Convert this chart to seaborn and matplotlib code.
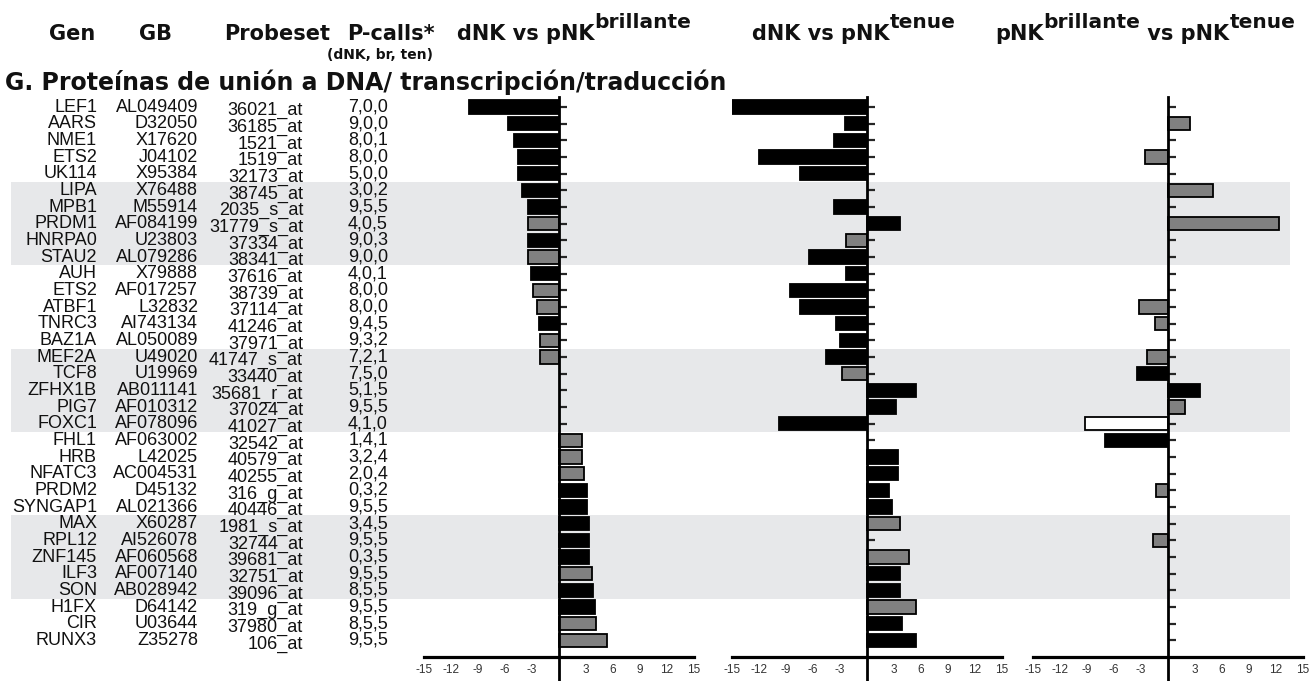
import numpy as np
import pandas as pd
import matplotlib
matplotlib.use('Agg')
import matplotlib.pyplot as plt
import seaborn as sns

# Table columns
genes = ['LEF1', 'AARS', 'NME1', 'ETS2', 'UK114', 'LIPA', 'MPB1', 'PRDM1', 'HNRPA0', 'STAU2',
         'AUH', 'ETS2', 'ATBF1', 'TNRC3', 'BAZ1A', 'MEF2A', 'TCF8', 'ZFHX1B', 'PIG7', 'FOXC1',
         'FHL1', 'HRB', 'NFATC3', 'PRDM2', 'SYNGAP1', 'MAX', 'RPL12', 'ZNF145', 'ILF3', 'SON',
         'H1FX', 'CIR', 'RUNX3']
genbank = ['AL049409', 'D32050', 'X17620', 'J04102', 'X95384', 'X76488', 'M55914', 'AF084199', 'U23803', 'AL079286',
           'X79888', 'AF017257', 'L32832', 'AI743134', 'AL050089', 'U49020', 'U19969', 'AB011141', 'AF010312', 'AF078096',
           'AF063002', 'L42025', 'AC004531', 'D45132', 'AL021366', 'X60287', 'AI526078', 'AF060568', 'AF007140', 'AB028942',
           'D64142', 'U03644', 'Z35278']
probesets = ['36021_at', '36185_at', '1521_at', '1519_at', '32173_at', '38745_at', '2035_s_at', '31779_s_at', '37334_at', '38341_at',
             '37616_at', '38739_at', '37114_at', '41246_at', '37971_at', '41747_s_at', '33440_at', '35681_r_at', '37024_at', '41027_at',
             '32542_at', '40579_at', '40255_at', '316_g_at', '40446_at', '1981_s_at', '32744_at', '39681_at', '32751_at', '39096_at',
             '319_g_at', '37980_at', '106_at']
pcalls = ['7,0,0', '9,0,0', '8,0,1', '8,0,0', '5,0,0', '3,0,2', '9,5,5', '4,0,5', '9,0,3', '9,0,0',
          '4,0,1', '8,0,0', '8,0,0', '9,4,5', '9,3,2', '7,2,1', '7,5,0', '5,1,5', '9,5,5', '4,1,0',
          '1,4,1', '3,2,4', '2,0,4', '0,3,2', '9,5,5', '3,4,5', '9,5,5', '0,3,5', '9,5,5', '8,5,5',
          '9,5,5', '8,5,5', '9,5,5']

nan = np.nan
# fold change, dNK vs pNK brillante
fc_br = [-10.0, -5.7, -5.0, -4.6, -4.6, -4.1, -3.4, -3.4, -3.4, -3.4,
         -3.1, -2.9, -2.4, -2.2, -2.1, -2.1, nan, nan, nan, nan,
         2.5, 2.5, 2.8, 3.1, 3.1, 3.3, 3.3, 3.3, 3.7, 3.8,
         4.0, 4.1, 5.3]
cls_br = ['s', 's', 's', 's', 's', 's', 's', 'g', 's', 'g',
          's', 'g', 'g', 's', 'g', 'g', '', '', '', '',
          'g', 'g', 'g', 's', 's', 's', 's', 's', 'g', 's',
          's', 'g', 'g']
# dNK vs pNK tenue
fc_ten = [-15.0, -2.4, -3.7, -12.0, -7.4, nan, -3.7, 3.7, -2.3, -6.5,
          -2.3, -8.6, -7.4, -3.5, -3.0, -4.6, -2.8, 5.4, 3.2, -9.8,
          nan, 3.4, 3.4, 2.4, 2.8, 3.7, nan, 4.7, 3.7, 3.7,
          5.4, 3.9, 5.4]
cls_ten = ['s', 's', 's', 's', 's', '', 's', 's', 'g', 's',
           's', 's', 's', 's', 's', 's', 'g', 's', 's', 's',
           '', 's', 's', 's', 's', 'g', '', 'g', 's', 's',
           'g', 's', 's']
# pNK brillante vs pNK tenue
fc_bt = [nan, 2.4, nan, -2.6, nan, 5.0, nan, 12.3, nan, nan,
         nan, nan, -3.2, -1.5, nan, -2.3, -3.5, 3.6, 1.9, -9.2,
         -7.0, nan, nan, -1.3, nan, nan, -1.7, nan, nan, nan,
         nan, nan, nan]
cls_bt = ['', 'g', '', 'g', '', 'g', '', 'g', '', '',
          '', '', 'g', 'g', '', 'g', 's', 's', 'g', 'w',
          's', '', '', 'g', '', '', 'g', '', '', '',
          '', '', '']

xticks = [-15, -12, -9, -6, -3, 3, 6, 9, 12, 15]
shaded = [(5, 9), (15, 19), (25, 29)]

W, H = 1312, 681
ROW0, STEP = 107, 16.667


def row(ypx):
    return (ypx - ROW0) / STEP


sns.set_style('white')
plt.rcParams['font.family'] = ['Liberation Sans', 'DejaVu Sans']

fig = plt.figure(figsize=(W / 100, H / 100), dpi=100)

# background axes in pixel x / row y units, for the table and shading
bg = fig.add_axes([0, 0, 1, 1])
bg.set_xlim(0, W)
bg.set_ylim(row(H), row(0))
bg.axis('off')

for a, b in shaded:
    bg.axhspan(a - 0.5, b + 0.5, xmin=11 / W, xmax=1290 / W, color='#e7e8ea', lw=0, zorder=0)

for i in range(len(genes)):
    bg.text(97, i, genes[i], ha='right', va='center', fontsize=13, color='#111')
    bg.text(198, i, genbank[i], ha='right', va='center', fontsize=13, color='#111')
    bg.text(303, i + 0.22, probesets[i], ha='right', va='center', fontsize=13, color='#111')
    bg.text(388, i, pcalls[i], ha='right', va='center', fontsize=13, color='#111')

# column headers
bold = ['DejaVu Sans']
hy = row(40)
hkw = dict(fontsize=15, fontweight='bold', family=bold, va='baseline', color='#111')
bg.text(72, hy, 'Gen', ha='center', **hkw)
bg.text(155, hy, 'GB', ha='center', **hkw)
bg.text(277, hy, 'Probeset', ha='center', **hkw)
bg.text(391, hy, 'P-calls*', ha='center', **hkw)
bg.text(380, row(55), '(dNK, br, ten)', ha='center', va='center', fontsize=10,
        fontweight='bold', family=bold, color='#111')

skw = dict(fontsize=14.5, fontweight='bold', family=bold, color='#111', va='baseline',
           ha='left', xytext=(0, 8.6), textcoords='offset points')
t = bg.text(457, hy, 'dNK vs pNK', ha='left', **hkw)
bg.annotate('brillante', xy=(1, hy), xycoords=(t, 'data'), **skw)
t = bg.text(752, hy, 'dNK vs pNK', ha='left', **hkw)
bg.annotate('tenue', xy=(1, hy), xycoords=(t, 'data'), **skw)
t = bg.text(995, hy, 'pNK', ha='left', **hkw)
s = bg.annotate('brillante', xy=(1, hy), xycoords=(t, 'data'), **skw)
t2 = bg.annotate(' vs pNK', xy=(1, hy), xycoords=(s, 'data'), ha='left', **hkw)
bg.annotate('tenue', xy=(1, hy), xycoords=(t2, 'data'), **skw)

bg.text(5, row(90), 'G. Proteínas de unión a DNA/ transcripción/traducción', ha='left',
        va='baseline', fontsize=17, fontweight='bold', family=bold, color='#111')

palette = {'s': 'black', 'g': '#808080', 'w': 'white'}
panels = [(559, fc_br, cls_br), (867, fc_ten, cls_ten), (1168, fc_bt, cls_bt)]
top_px = 97

for zero_px, vals, cls in panels:
    ax = fig.add_axes([(zero_px - 135) / W, 0, 270 / W, (H - top_px) / H])
    ax.set_facecolor('none')
    df = pd.DataFrame({'row': np.arange(len(vals)), 'fc': vals, 'cls': cls}).dropna()
    sns.barplot(data=df, x='fc', y='row', hue='cls', palette=palette, orient='h',
                native_scale=True, dodge=False, width=0.8, edgecolor='black',
                linewidth=1.3, legend=False, ax=ax)
    ax.set_xlim(-15, 15)
    ax.set_ylim(row(H), row(top_px))
    ax.set_xlabel('')
    ax.set_ylabel('')
    for side in ['top', 'right']:
        ax.spines[side].set_visible(False)
    ax.spines['left'].set_position(('data', 0))
    ax.spines['left'].set_linewidth(2)
    ax.spines['bottom'].set_position(('data', 33))
    ax.spines['bottom'].set_linewidth(2.3)
    ax.spines['left'].set_color('black')
    ax.spines['bottom'].set_color('black')
    ax.set_yticks(range(len(vals)))
    ax.tick_params(axis='y', direction='in', length=5.5, width=1.6, labelleft=False, left=True)
    ax.set_xticks(xticks)
    ax.set_xticklabels([str(v) for v in xticks])
    ax.tick_params(axis='x', length=0, pad=5, labelsize=8.5, labelcolor='#333')

fig.savefig('out.png', dpi=100)
